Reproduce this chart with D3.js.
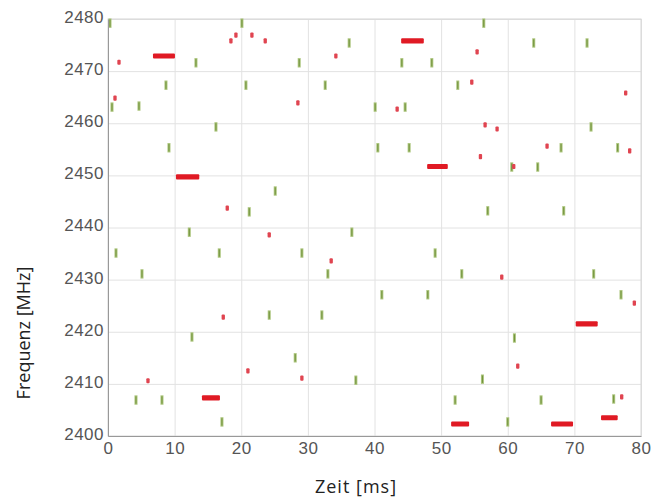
<!DOCTYPE html>
<html>
<head>
<meta charset="utf-8">
<script src="https://cdn.jsdelivr.net/npm/d3@7"></script>
<style>
  body { margin: 0; background: #fff; }
  .tick text { font-family: "Liberation Sans", Arial, sans-serif; font-size: 17px; letter-spacing: 0.5px; fill: #555; }
  .label { font-family: "Open Sans", sans-serif; font-size: 18px; fill: #222; }
</style>
</head>
<body>
<svg id="chart" width="660" height="501"></svg>
<script>
// green hops: centre time [ms], frequency [MHz]
var greenTime = [0.3, 0.6, 1.2, 4.65, 5.1, 4.2, 8.1, 8.7, 9.15, 12.2, 12.6, 13.2, 16.2, 16.7, 17.1,
  20.1, 20.7, 21.2, 24.2, 25.1, 28.1, 28.7, 29.1, 32.1, 32.6, 33.0, 36.2, 36.6, 37.2,
  40.1, 40.5, 41.1, 44.1, 44.6, 45.2, 48.0, 48.6, 49.1, 52.1, 52.5, 53.1, 56.2, 56.4, 57.0,
  60.0, 60.6, 61.0, 63.9, 64.5, 65.0, 68.0, 68.4, 71.9, 72.5, 72.9, 75.9, 76.5, 77.0];
var greenFreq = [2479.2, 2463.1, 2435.1, 2463.3, 2431.1, 2406.9, 2406.9, 2467.3, 2455.3, 2439.1, 2419.0, 2471.6, 2459.3, 2435.1, 2402.7,
  2479.2, 2467.3, 2443.0, 2423.2, 2447.0, 2415.0, 2471.6, 2435.1, 2423.2, 2467.3, 2431.1, 2475.4, 2439.1, 2410.7,
  2463.1, 2455.3, 2427.1, 2471.6, 2463.1, 2455.3, 2427.1, 2471.6, 2435.1, 2406.9, 2467.3, 2431.1, 2410.9, 2479.2, 2443.2,
  2402.7, 2451.6, 2418.8, 2475.4, 2451.6, 2406.9, 2455.3, 2443.2, 2475.4, 2459.3, 2431.1, 2407.1, 2455.3, 2427.1];

// red bursts: start / end time [ms], frequency [MHz]
var redStart = [1.4, 0.8, 18.2, 18.95, 21.35, 23.35, 33.95, 28.25, 43.15, 55.15, 54.35, 55.65, 56.35, 58.15,
  65.65, 77.45, 78.05, 60.65, 17.65, 23.95, 17.05, 33.25, 58.85, 78.75, 20.75, 5.75, 28.85, 61.25, 76.85,
  6.75, 10.2, 44.0, 47.9, 14.1, 51.5, 70.2, 66.5, 74.0];
var redEnd = [1.9, 1.3, 18.7, 19.45, 21.85, 23.85, 34.45, 28.75, 43.65, 55.65, 54.85, 56.15, 56.85, 58.65,
  66.15, 77.95, 78.55, 61.15, 18.15, 24.45, 17.55, 33.75, 59.35, 79.25, 21.25, 6.25, 29.35, 61.75, 77.35,
  10.05, 13.7, 47.4, 51.0, 16.8, 54.2, 73.5, 69.8, 76.5];
var redFreq = [2471.7, 2464.8, 2475.8, 2476.9, 2476.9, 2475.8, 2472.9, 2463.9, 2462.7, 2473.7, 2467.9, 2453.6, 2459.7, 2458.9,
  2455.6, 2465.8, 2454.7, 2451.7, 2443.7, 2438.6, 2422.8, 2433.6, 2430.5, 2425.5, 2412.5, 2410.6, 2411.1, 2413.4, 2407.5,
  2472.9, 2449.7, 2475.8, 2451.7, 2407.3, 2402.3, 2421.5, 2402.3, 2403.5];

var xTicks = [0, 10, 20, 30, 40, 50, 60, 70, 80];
var yTicks = [2400, 2410, 2420, 2430, 2440, 2450, 2460, 2470, 2480];

var svg = d3.select('#chart'),
    margin = {left: 108, right: 19, top: 19, bottom: 65},
    width = +svg.attr('width') - margin.left - margin.right,
    height = +svg.attr('height') - margin.top - margin.bottom;

var x = d3.scaleLinear().domain([0, 80]).range([margin.left, margin.left + width]);
var y = d3.scaleLinear().domain([2400, 2480]).range([margin.top + height, margin.top]);

// grid
svg.append('g')
    .attr('transform', 'translate(0,' + (margin.top + height) + ')')
    .call(d3.axisBottom(x).tickValues(xTicks).tickSize(-height).tickFormat(''))
    .call(g => g.select('.domain').remove())
    .selectAll('line').attr('stroke', '#e2e2e2');
svg.append('g')
    .attr('transform', 'translate(' + margin.left + ',0)')
    .call(d3.axisLeft(y).tickValues(yTicks).tickSize(-width).tickFormat(''))
    .call(g => g.select('.domain').remove())
    .selectAll('line').attr('stroke', '#e2e2e2');

svg.append('rect')
    .attr('x', margin.left).attr('y', margin.top)
    .attr('width', width).attr('height', height)
    .attr('fill', 'none').attr('stroke', '#d6d6d6');

// green marks
var gw = x(0.45) - x(0);
var gh = y(2400) - y(2401.8);
svg.append('g').selectAll('rect')
    .data(greenTime)
    .enter()
    .append('rect')
    .attr('x', (d, i) => x(d) - gw / 2)
    .attr('y', (d, i) => y(greenFreq[i]) - gh / 2)
    .attr('width', gw)
    .attr('height', gh)
    .attr('fill', '#aac47a');
svg.append('g').selectAll('line')
    .data(greenTime)
    .enter()
    .append('line')
    .attr('x1', d => x(d)).attr('x2', d => x(d))
    .attr('y1', (d, i) => y(greenFreq[i]) - gh / 2 + 1)
    .attr('y2', (d, i) => y(greenFreq[i]) + gh / 2 - 1)
    .attr('stroke', '#6f8f3a')
    .attr('stroke-width', 1);

// red marks
var rh = y(2400) - y(2401);
svg.append('g').selectAll('rect')
    .data(redStart)
    .enter()
    .append('rect')
    .attr('x', d => x(d))
    .attr('y', (d, i) => y(redFreq[i]) - rh / 2)
    .attr('width', (d, i) => x(redEnd[i]) - x(d))
    .attr('height', rh)
    .attr('rx', 1)
    .attr('fill', (d, i) => redEnd[i] - d > 1 ? '#e01a24' : '#e04450');

// axes
var fmt = d3.format('d');
var xAxis = svg.append('g')
    .attr('transform', 'translate(0,' + (margin.top + height) + ')')
    .call(d3.axisBottom(x).tickValues(xTicks).tickFormat(fmt).tickSize(0).tickPadding(6));
xAxis.select('.domain').attr('stroke', '#999');
var yAxis = svg.append('g')
    .attr('transform', 'translate(' + margin.left + ',0)')
    .call(d3.axisLeft(y).tickValues(yTicks).tickFormat(fmt).tickSize(0).tickPadding(4));
yAxis.select('.domain').attr('stroke', '#999');
yAxis.selectAll('.tick text').attr('dy', '0.2em');

svg.append('text')
    .attr('class', 'label')
    .attr('x', 356)
    .attr('y', 493)
    .attr('text-anchor', 'middle')
    .style('letter-spacing', '1px')
    .text('Zeit [ms]');
svg.append('text')
    .attr('class', 'label')
    .attr('transform', 'translate(30,333) rotate(-90)')
    .attr('text-anchor', 'middle')
    .text('Frequenz [MHz]');
</script>
</body>
</html>
